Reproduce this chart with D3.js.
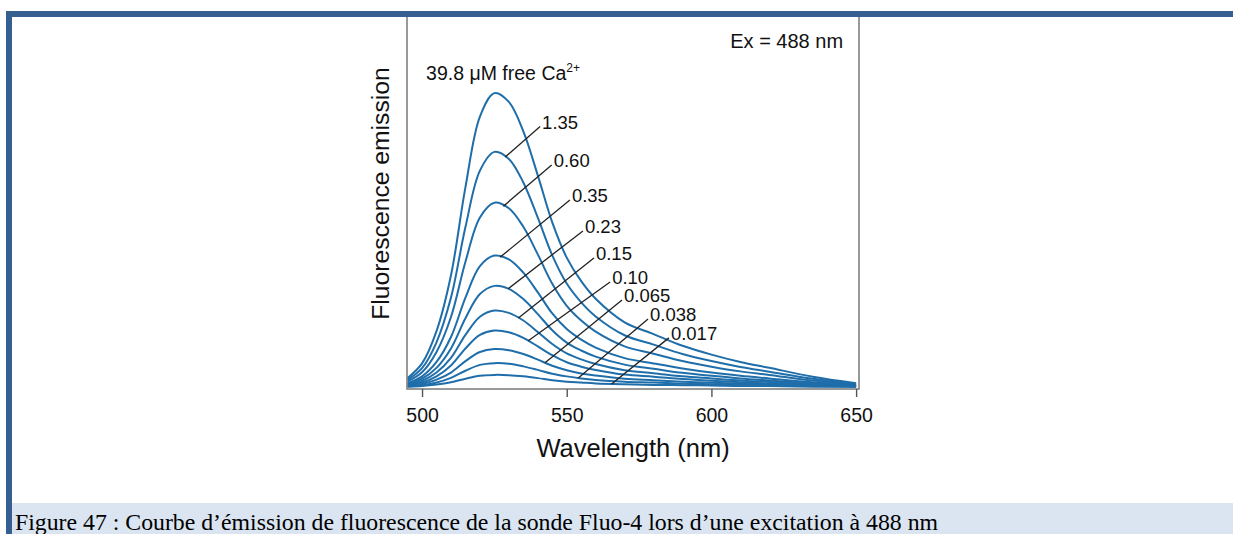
<!DOCTYPE html>
<html><head><meta charset="utf-8">
<script src="https://cdn.jsdelivr.net/npm/d3@7"></script>
<style>html,body{margin:0;padding:0;background:#fff;} svg{display:block;}</style>
</head><body><svg id="c" width="1233" height="534"></svg>
<script>
// ---- data ----
const wavelengths = [495, 500, 505, 510, 515, 520, 525, 530, 535, 540, 545, 550, 555, 560, 570, 580, 590, 600, 610, 620, 635, 650];
const caLabels = ["39.8", "1.35", "0.60", "0.35", "0.23", "0.15", "0.10", "0.065", "0.038", "0.017"];
const s398  = [3, 8, 19, 38, 68, 92, 100, 97, 87, 72, 56, 44, 36, 30, 22, 18, 14, 11, 8.5, 6.5, 3.5, 1.3];
const s135  = [2.4, 6.4, 15.2, 30.4, 54.4, 73.6, 80, 77.6, 69.6, 57.6, 44.8, 35.2, 28.8, 24, 17.6, 14.4, 11.2, 8.8, 6.8, 5.2, 2.8, 1.0];
const s060  = [1.9, 5.0, 11.9, 23.8, 42.6, 57.7, 62.7, 60.8, 54.5, 45.1, 35.1, 27.6, 22.6, 18.8, 13.8, 11.3, 8.8, 6.9, 5.3, 4.1, 2.2, 0.8];
const s035  = [1.3, 3.6, 8.5, 17.0, 30.4, 41.1, 44.7, 43.4, 38.9, 32.2, 25.0, 19.7, 16.1, 13.4, 9.8, 8.0, 6.3, 4.9, 3.8, 2.9, 1.6, 0.6];
const s023  = [1.0, 2.8, 6.5, 13.1, 23.4, 31.6, 34.4, 33.4, 29.9, 24.8, 19.3, 15.1, 12.4, 10.3, 7.6, 6.2, 4.8, 3.8, 2.9, 2.2, 1.2, 0.4];
const s015  = [0.8, 2.1, 4.9, 9.9, 17.7, 23.9, 26.0, 25.2, 22.6, 18.7, 14.6, 11.4, 9.4, 7.8, 5.7, 4.7, 3.6, 2.9, 2.2, 1.7, 0.9, 0.3];
const s010  = [0.6, 1.5, 3.6, 7.3, 13.1, 17.7, 19.2, 18.6, 16.7, 13.8, 10.8, 8.4, 6.9, 5.8, 4.2, 3.5, 2.7, 2.1, 1.6, 1.2, 0.7, 0.2];
const s0065 = [0.4, 1.0, 2.5, 4.9, 8.8, 11.9, 12.9, 12.5, 11.2, 9.3, 7.2, 5.7, 4.6, 3.9, 2.8, 2.3, 1.8, 1.4, 1.1, 0.8, 0.5, 0.2];
const s0038 = [0.2, 0.6, 1.5, 3.1, 5.5, 7.5, 8.1, 7.9, 7.0, 5.8, 4.5, 3.6, 2.9, 2.4, 1.8, 1.5, 1.1, 0.9, 0.7, 0.5, 0.3, 0.1];
const s0017 = [0.1, 0.3, 0.8, 1.6, 2.8, 3.8, 4.1, 4.0, 3.6, 3.0, 2.3, 1.8, 1.5, 1.2, 0.9, 0.7, 0.6, 0.5, 0.3, 0.3, 0.1, 0.1];
const seriesValues = [s398, s135, s060, s035, s023, s015, s010, s0065, s0038, s0017];
const xTicks = [500, 550, 600, 650];
// leader lines: start wavelength on curve, label anchor (wavelength, intensity)
const leaderStartNm = [null, 528.7, 528.1, 527.0, 529.8, 533.3, 536.7, 542.5, 554.0, 565.5];
const labelNm       = [null, 540.8, 544.8, 551.1, 555.6, 559.4, 565.0, 569.1, 578.1, 585.3];
const labelValue    = [null, 88.6, 75.5, 63.6, 53.1, 43.9, 35.7, 29.6, 23.1, 16.7];
const topLabel = {nm: 501.4, value: 104.5, text: "39.8 μM free Ca", sup: "2+"};
const exLabel = {nm: 645.5, value: 115.3, text: "Ex = 488 nm"};
const xTitle = "Wavelength (nm)";
const yTitle = "Fluorescence emission";
const caption = "Figure 47 : Courbe d’émission de fluorescence de la sonde Fluo-4 lors d’une excitation à 488 nm";

// ---- drawing ----
const svg = d3.select("#c");
const L = 407, R = 859, T = 14, B = 389;
const x = d3.scaleLinear().domain([494.8, 651]).range([L, R]);
const y = d3.scaleLinear().domain([-0.7, 125.9]).range([B, 17]);
const sans = "'Liberation Sans', Arial, Helvetica, sans-serif";

svg.append("defs").append("clipPath").attr("id", "pc")
  .append("rect").attr("x", L).attr("y", T).attr("width", R - L).attr("height", B - T);

const line = d3.line().x((d, i) => x(wavelengths[i])).y(d => y(d)).curve(d3.curveCatmullRom.alpha(0.5));
svg.append("g").attr("clip-path", "url(#pc)")
  .selectAll("path").data(seriesValues).join("path")
  .attr("d", d => line(d)).attr("fill", "none")
  .attr("stroke", "#1f6eaa").attr("stroke-width", 2);

function valueAt(series, nm) {
  let i = d3.bisectRight(wavelengths, nm) - 1;
  i = Math.max(0, Math.min(wavelengths.length - 2, i));
  const t = (nm - wavelengths[i]) / (wavelengths[i + 1] - wavelengths[i]);
  return series[i] + t * (series[i + 1] - series[i]);
}

const lg = svg.append("g");
caLabels.forEach((lab, k) => {
  if (k === 0) return;
  const x0 = x(leaderStartNm[k]), y0 = y(valueAt(seriesValues[k], leaderStartNm[k]));
  const x1 = x(labelNm[k]), y1 = y(labelValue[k]);
  lg.append("line").attr("x1", x0).attr("y1", y0).attr("x2", x1).attr("y2", y1)
    .attr("stroke", "#222").attr("stroke-width", 1.3);
  lg.append("text").attr("x", x1 + 2).attr("y", y1 + 2)
    .attr("font-family", sans).attr("font-size", 18.5).attr("fill", "#111").text(lab);
});

const tl = svg.append("text").attr("x", x(topLabel.nm)).attr("y", y(topLabel.value))
  .attr("font-family", sans).attr("font-size", 19.5).attr("fill", "#111");
tl.append("tspan").text(topLabel.text);
tl.append("tspan").attr("font-size", 12).attr("dy", -8).text(topLabel.sup);

svg.append("text").attr("x", x(exLabel.nm)).attr("y", y(exLabel.value))
  .attr("text-anchor", "end").attr("font-family", sans).attr("font-size", 20)
  .attr("fill", "#111").text(exLabel.text);

// frame
svg.append("rect").attr("x", L).attr("y", T).attr("width", R - L).attr("height", B - T)
  .attr("fill", "none").attr("stroke", "#808080").attr("stroke-width", 1.6);

// x axis
const ax = svg.append("g").attr("transform", `translate(0,${B})`)
  .call(d3.axisBottom(x).tickValues(xTicks).tickSize(8).tickPadding(11).tickFormat(d3.format("d")));
ax.select(".domain").remove();
ax.selectAll(".tick line").attr("stroke", "#555").attr("stroke-width", 1.4);
ax.selectAll(".tick text").attr("font-family", sans).attr("font-size", 19.5).attr("fill", "#111");

svg.append("text").attr("x", (x(500) + x(650)) / 2 - 6).attr("y", 457)
  .attr("text-anchor", "middle").attr("font-family", sans).attr("font-size", 25.5)
  .attr("fill", "#111").text(xTitle);

svg.append("text").attr("transform", "translate(388.5,193.5) rotate(-90)")
  .attr("text-anchor", "middle").attr("font-family", sans).attr("font-size", 24.7)
  .attr("fill", "#111").text(yTitle);

// page decoration
svg.append("rect").attr("x", 12).attr("y", 503).attr("width", 1221).attr("height", 31).attr("fill", "#dbe5f1");
svg.append("rect").attr("x", 6).attr("y", 11).attr("width", 1227).attr("height", 6).attr("fill", "#365f91");
svg.append("rect").attr("x", 6).attr("y", 11).attr("width", 6).attr("height", 523).attr("fill", "#365f91");
const cap = svg.append("text").attr("x", 0).attr("y", 0)
  .attr("font-family", "'Liberation Serif', 'DejaVu Serif', serif").attr("font-size", 24)
  .attr("fill", "#000").text(caption);
const capLen = cap.node().getComputedTextLength() || 924;
cap.attr("transform", `translate(15,529.5) scale(${924 / capLen},1)`);
</script></body></html>
